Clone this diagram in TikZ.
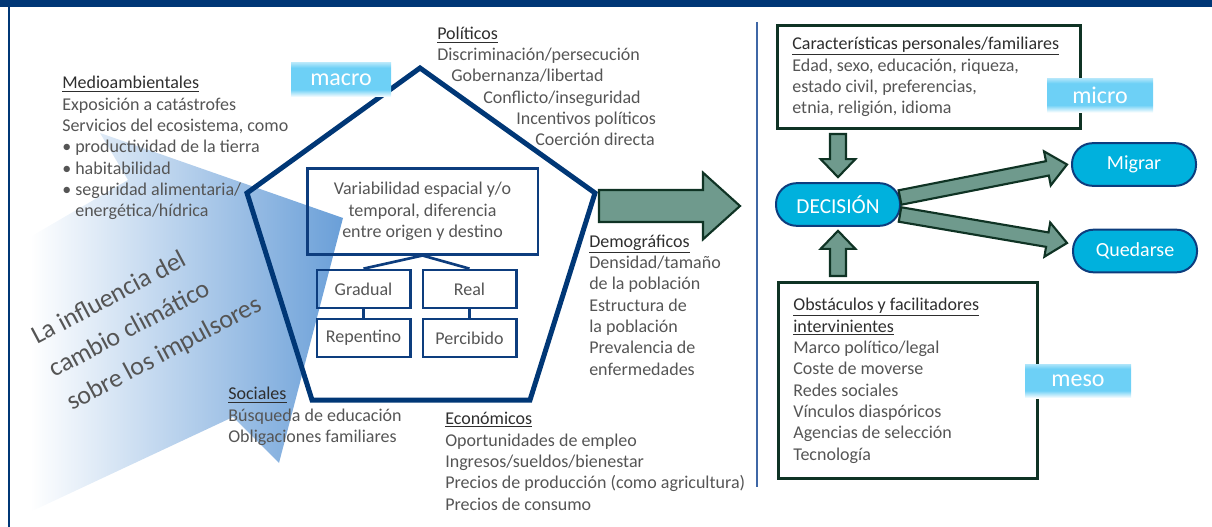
\documentclass[tikz,border=0pt]{standalone}
\usepackage{fontspec}
\setmainfont{Carlito}
\usetikzlibrary{calc}

\definecolor{navy}{HTML}{003776}
\definecolor{boxblue}{HTML}{0D3D7E}
\definecolor{arrfill}{HTML}{6F9A8D}
\definecolor{arredge}{HTML}{0F3324}
\definecolor{pillfill}{HTML}{00B1DD}
\definecolor{lblc}{HTML}{6DD0F6}
\definecolor{gradr}{HTML}{6A9FD8}
\definecolor{txt}{HTML}{555555}
\definecolor{ttl}{HTML}{2E2E2E}
\definecolor{divline}{HTML}{3F67A6}

\pgfdeclareverticalshading{lblshade}{100bp}{color(0bp)=(white); color(25bp)=(white); color(36bp)=(lblc); color(68bp)=(lblc); color(75bp)=(lblc!55!white); color(100bp)=(lblc!55!white)}

\newcommand{\hd}[1]{{\color{ttl}\underline{#1}}}

% fat arrow: from, tip, shaft half width, head half width, head length
\newcommand{\bigarrow}[5]{%
  \path (#1) coordinate (fa-s) (#2) coordinate (fa-t);
  \path ($(fa-t)!#5!(fa-s)$) coordinate (fa-h);
  \draw [bigarr] ($(fa-s)!#3!90:(fa-t)$) -- ($(fa-h)!#3!90:(fa-t)$) -- ($(fa-h)!#4!90:(fa-t)$)
    -- (fa-t) -- ($(fa-h)!#4!-90:(fa-t)$) -- ($(fa-h)!#3!-90:(fa-t)$) -- ($(fa-s)!#3!-90:(fa-t)$) -- cycle;}

\begin{document}
\begin{tikzpicture}[x=0.75pt,y=-0.75pt,
  every node/.style={font=\fontsize{13.5}{16}\selectfont,text=txt},
  txtline/.style={anchor=base west,align=left,inner sep=0pt},
  inbox/.style={draw=boxblue,line width=2pt,align=center,inner sep=0pt},
  panel/.style={draw=arredge,line width=2.5pt,align=flush left,inner xsep=11pt,inner ysep=0pt,anchor=north west},
  pill/.style={draw=boxblue,fill=pillfill,line width=1.5pt,text=white,rounded corners=15.5pt,
    minimum width=93pt,minimum height=32pt,inner sep=0pt,font=\fontsize{15}{16}\selectfont},
  lvl/.style={shade,shading=lblshade,text=white,minimum width=75pt,minimum height=25.5pt,inner sep=0pt,
    font=\fontsize{18}{20}\selectfont},
  bigarr/.style={fill=arrfill,draw=arredge,line width=1.6pt,line join=miter}]
  \useasboundingbox (0,0) rectangle (1212,527);

  % frame
  \fill [navy] (0,0) rectangle (1212,7);
  \draw [navy,line width=1.5pt] (9,7) -- (9,527);
  \draw [divline,line width=1pt] (757,22) -- (757,487);

  % climate influence wedge
  \shade [left color=white,right color=gradr] (30,237) -- (128,180) -- (100,133) -- (343,218)
    -- (279,463) -- (233,417) -- (30,512) -- cycle;
  % (anchored on the baseline of the last line)
  \node [rotate=28,anchor=base west,align=left,inner sep=0pt,font=\fontsize{19.5}{28}\selectfont] (infl)
    at (72,411) {La influencia del\\cambio climático\\sobre los impulsores};

  % drivers
  \node [txtline] (medio) at (62,217) {\hd{Medioambientales}\\Exposición a catástrofes\\Servicios del ecosistema, como\\
    \textbullet\ productividad de la tierra\\\textbullet\ habitabilidad\\\textbullet\ seguridad alimentaria/\\
    \phantom{\textbullet\ }energética/hídrica};
  \node [txtline] (pol) at (437,40) {\hd{Políticos}};
  \node [txtline] (pol1) at (437,61) {Discriminación/persecución};
  \node [txtline] (pol2) at (451,82) {Gobernanza/libertad};
  \node [txtline] (pol3) at (483,104) {Conflicto/inseguridad};
  \node [txtline] (pol4) at (516,125) {Incentivos políticos};
  \node [txtline] (pol5) at (535,146) {Coerción directa};
  \node [txtline] (demo) at (589,375) {\hd{Demográficos}\\Densidad/tamaño\\de la población\\Estructura de\\la población\\
    Prevalencia de\\enfermedades};
  \node [txtline] (econ) at (445,510) {\hd{Económicos}\\Oportunidades de empleo\\Ingresos/sueldos/bienestar\\
    Precios de producción (como agricultura)\\Precios de consumo};
  \node [txtline] (soc) at (228,442.5) {\hd{Sociales}\\Búsqueda de educación\\Obligaciones familiares};

  % pentagon
  \coordinate (pt) at (420,68);
  \coordinate (pr) at (595,193);
  \coordinate (pbr) at (530,400);
  \coordinate (pbl) at (312,400);
  \coordinate (pl) at (247,193);
  \draw [navy,line width=3.75pt,line join=miter] (pt) -- (pr) -- (pbr) -- (pbl) -- (pl) -- cycle;

  \node [inbox,minimum width=173pt,minimum height=64pt] (var) at (422.5,211.5)
    {Variabilidad espacial y/o\\temporal, diferencia\\entre origen y destino};
  \node [inbox,minimum width=70pt,minimum height=28.5pt] (grad) at (363.5,289) {Gradual};
  \node [inbox,minimum width=70pt,minimum height=28.5pt] (rep) at (363.5,338) {Repentino};
  \node [inbox,minimum width=70pt,minimum height=28.5pt] (real) at (469.5,289) {Real};
  \node [inbox,minimum width=70pt,minimum height=28.5pt] (perc) at (469.5,338) {Percibido};
  \draw [boxblue,line width=2pt] (grad.north) -- (var.south) -- (real.north);
  \draw [boxblue,line width=2pt] (grad) -- (rep);
  \draw [boxblue,line width=2pt] (real) -- (perc);

  \node [lvl] (macro) at (341,80) {macro};

  % big arrow to the decision side
  \coordinate (bigfrom) at (599,206);
  \coordinate (bigto) at (740,206);
  \bigarrow{bigfrom}{bigto}{12pt}{25pt}{27.75pt}

  % decision side
  \node [panel,text width=205pt,minimum height=77pt] (pers) at (776,24)
    {\hd{Características personales/familiares}\\Edad, sexo, educación, riqueza,\\estado civil, preferencias,\\etnia, religión, idioma};
  \node [panel,text width=172pt,minimum height=147pt] (obst) at (777,281)
    {\hd{Obstáculos y facilitadores}\\\hd{intervinientes}\\Marco político/legal\\Coste de moverse\\Redes sociales\\
    Vínculos diaspóricos\\Agencias de selección\\Tecnología};

  \node [pill,font=\fontsize{16}{18}\selectfont] (dec) at (838,204.5) {DECISIÓN};
  \node [pill] (mig) at (1134,164.5) {Migrar};
  \node [pill] (qued) at (1135,251) {Quedarse};

  \coordinate (downfrom) at ($(dec |- pers.south)+(0,4)$);
  \coordinate (downto) at ($(dec.north)+(0,-5)$);
  \coordinate (upfrom) at ($(dec |- obst.north)+(0,-5)$);
  \coordinate (upto) at ($(dec.south)+(0,4)$);
  \coordinate (migfrom) at ($(dec.east)+(-1,-7)$);
  \coordinate (migto) at ($(mig.west)+(-4,0)$);
  \coordinate (quefrom) at ($(dec.east)+(-1,10)$);
  \coordinate (queto) at ($(qued.west)+(-5,-8)$);
  \bigarrow{downfrom}{downto}{6pt}{13pt}{13.5pt}
  \bigarrow{upfrom}{upto}{6pt}{13pt}{13.5pt}
  \bigarrow{migfrom}{migto}{5.5pt}{13pt}{15pt}
  \bigarrow{quefrom}{queto}{5.5pt}{13pt}{15pt}

  \node [lvl,minimum width=79.5pt] (micro) at (1100,95.5) {micro};
  \node [lvl,minimum width=79.5pt] (meso) at (1078,381) {meso};
\end{tikzpicture}
\end{document}
